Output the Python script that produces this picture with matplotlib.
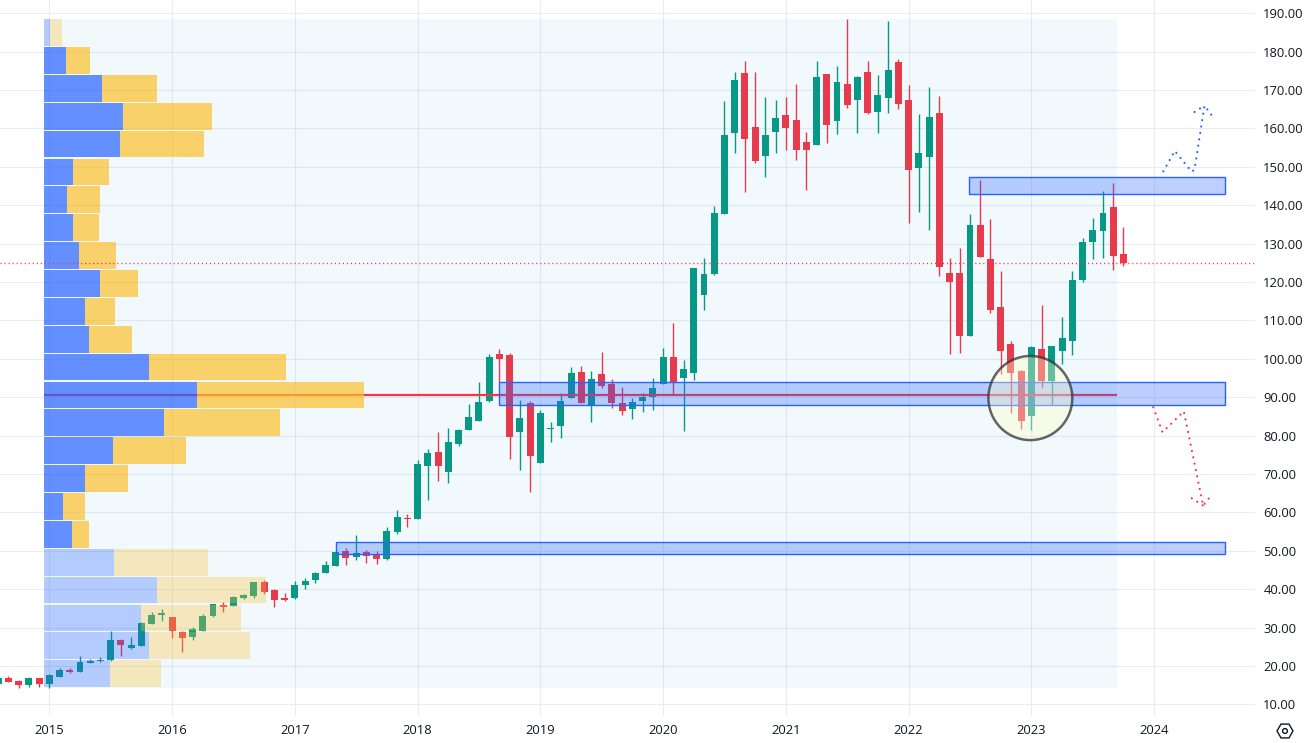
import matplotlib
matplotlib.use("Agg")
import matplotlib.pyplot as plt
from matplotlib.patches import Rectangle, Ellipse, RegularPolygon, Circle
from matplotlib.transforms import IdentityTransform

# monthly candles; index 0 = Jan 2015
first_month = -5
opens = [15.3,16.9,16.1,15.05,16.9,15.3,17.2,19,18.5,20.8,21.2,21.6,26.8,24.7,25.2,31,33.3,32.8,28.9,27.6,29.1,33.1,35.9,35.7,37.7,38.3,41.9,39.8,37.7,37.7,41.1,42.4,44.2,46.1,50,48.4,49.7,48.9,47.9,
         54.9,58.6,58.3,72.1,75.7,70.5,77.8,81.5,83.8,89,101.3,101,80.96,88.5,72.9,81.8,82.5,89.8,96.6,88,96,93.5,88.5,87,89,90.1,93.5,100.5,95,96.3,116.6,122.1,
         137.7,158.8,174.5,160.4,152.9,159.1,163.5,162.2,156.5,155.7,174.2,162,171.6,167.4,174.7,164.3,168,177.3,167.4,149.7,152.6,164,122.4,122.4,106,134.9,126,113.5,103.9,96.9,85.1,102.6,94.2,102,104.7,120.5,130.4,133.3,139.6,127.3]
closes = [16.8,15.9,15.05,16.9,15.3,17.7,19,18.5,21.1,21.3,21.6,26.8,25.5,25.5,31.2,33.3,33.8,29.1,27.3,29.7,33.1,36.2,35.4,38,38.5,41.9,39.3,37.2,37.2,41.1,42.2,44.2,46.3,49.7,48.2,49.4,48.7,47.9,55.2,
          58.8,58.4,72.6,75.5,72.1,78.3,81.5,84.9,88.8,100.5,100,79.7,84.6,74.7,85.9,81.9,89,96.3,88.5,94.8,92.9,88.5,86.4,88.8,90.1,92.4,100.5,94,97.4,123.7,122.1,138,
          158.3,172.6,157.3,151.5,158.3,162.7,160.1,154.4,154.4,173.4,160.9,172.1,166.1,173.4,164,168.7,175.2,166.4,149.2,153.6,163,124,120,106,134.9,126.5,112.7,102,96.3,83.8,103.1,94.2,103.4,105.4,120.5,130.4,133.6,138,126.8,125]
highs = [17,17.4,16.4,17.2,16.9,18,19.5,19.5,22.6,21.9,22.4,29.1,27.1,27.6,31.5,34.1,34.9,32.8,29.1,30.2,33.6,36.2,36.7,38.3,38.8,41.9,42.4,40.1,39,42.2,42.9,44.5,47.4,49.7,50.8,54.1,50.2,50,56.2,
         60.6,59.6,73.7,76.5,81,82,81.7,88.3,94,101.3,102.6,101.5,89.3,89,86.7,83.6,91.1,97.9,98.1,96.8,101.8,94.8,92.7,89.8,91.1,95,102.8,109.4,99.7,123.7,126.3,139.8,
         167.2,174.7,177.6,174.7,168.2,167.4,168.2,171.6,159.1,177.6,174.2,176.3,188.5,173.7,177.6,174,188,178.1,171.3,163.8,170.8,168.5,126.3,128.9,137.7,146.6,136.4,122.9,104.7,97.1,103.4,114,103.4,110.9,122.9,131.5,136.7,143.7,145.8,134.4]
lows = [15,15.9,14.3,14.5,14.5,14.3,17.2,18.2,18.5,20.8,21.1,21.3,22.6,24.4,25.2,31,31.7,27.3,23.7,26.8,29.1,32.8,34.1,35.7,37.5,37.7,38.8,35.4,36.9,37.5,40.1,41.6,44.2,46.1,46.3,47.6,46.9,46.6,47.6,
        54.4,56.2,58.3,63.2,68.2,67.7,77.3,81.5,83.8,88.8,94,73.9,71,65.3,72.9,78.4,79.4,89.8,88.5,83.6,92.4,87.2,85.4,84.4,86.2,86.7,93.5,90.8,81.3,94.5,112.7,121.9,
        137.7,153.6,143.5,151,147.4,153.6,154.4,151.8,144,155.7,156.2,158.6,165.3,158.8,163.8,158.8,164,165.1,135.4,138.3,133.6,121.6,101.3,101.5,106,126.5,112,96,85.9,81.7,81.5,92.4,88,98.6,101,120,126,126.3,123.2,124.2]

# volume profile rows, top to bottom
up_volume = [5.7,22,58,79,76,29,23,29,35,56,41,45,105,153,120,69,41,19,28,70,113,97,105,66]
total_volume = [18,46,113,168,160,65,56,55,72,94,71,88,242,320,236,142,84,41,45,164,222,197,206,117]
value_area_rows = range(1, 19)
vp_top, vp_bottom = 188.6, 14.4
vp_start, vp_end = -0.52, 104.37
poc_price = 90.6
last_price = 125

# drawn zones: (first month, last month, low, high)
zones = [(28.05, 114.93, 49.1, 52.2), (43.96, 114.93, 87.9, 93.9), (89.93, 114.93, 142.9, 147.3)]

# drawn forecast paths
blue_path_m = [108.9, 110.02, 111.5, 111.72, 111.95, 112.92, 113.7]
blue_path_p = [148.85, 154.15, 149.3, 148.76, 149.4, 165.95, 163.17]
blue_head_m = [111.95, 112.92]
blue_head_p = [164.3, 165.95]
red_path_m = [107.91, 108.82, 110.9, 112.79, 113.51]
red_path_p = [87.4, 80.9, 86.35, 61.79, 64.22]
red_head_m = [111.68, 112.79]
red_head_p = [63.7, 61.79]

years = [2015, 2016, 2017, 2018, 2019, 2020, 2021, 2022, 2023, 2024]
price_ticks = list(range(10, 200, 10))

UP, DOWN = "#089981", "#F23645"
BLUE, YELLOW = "#2962FF", "#FBC02D"
TXT = "#131722"

W, H = 1311, 743
fig = plt.figure(figsize=(W / 100, H / 100), dpi=100)
fig.patch.set_facecolor("white")
ax = fig.add_axes([0, (H - 716) / H, 1255 / W, 716 / H])
ax.set_xlim(-4.82, 117.86)
ax.set_ylim(7.0, 193.46)
for s in ax.spines.values():
    s.set_visible(False)
ax.set_facecolor("white")

ax.set_xticks([(y - 2015) * 12 for y in years])
ax.set_xticklabels(years)
ax.set_yticks(price_ticks)
ax.set_yticklabels([f"{v:.2f}" for v in price_ticks])
ax.yaxis.tick_right()
ax.tick_params(axis="both", length=0, labelcolor=TXT, labelsize=9.4)
ax.tick_params(axis="y", pad=6)
ax.tick_params(axis="x", pad=6)
for lab in ax.get_xticklabels() + ax.get_yticklabels():
    lab.set_fontfamily("Open Sans")
ax.grid(True, color="#EAECF1", lw=0.8, zorder=0)
ax.set_axisbelow(True)

months = [first_month + i for i in range(len(opens))]
colors = [UP if c >= o else DOWN for o, c in zip(opens, closes)]
ax.vlines(months, lows, highs, colors=colors, lw=1.0, zorder=2)
ax.bar(months, [abs(c - o) for o, c in zip(opens, closes)],
       bottom=[min(o, c) for o, c in zip(opens, closes)],
       width=0.68, color=colors, lw=0, zorder=3)

# fixed-range volume profile
ax.add_patch(Rectangle((vp_start, vp_bottom), vp_end - vp_start, vp_top - vp_bottom,
                       fc="#169BDE", alpha=0.06, lw=0, zorder=4))
ax.plot([vp_start, vp_end], [poc_price, poc_price], color="#F23645", lw=1.6,
        solid_capstyle="butt", zorder=4.5)
step = (vp_top - vp_bottom) / len(up_volume)
px_to_month = 1 / 10.23
for i, (u, t) in enumerate(zip(up_volume, total_volume)):
    y = vp_top - step * (i + 0.5)
    a = 0.7 if i in value_area_rows else 0.3
    ax.barh(y, u * px_to_month, left=vp_start, height=step - 0.3, color=BLUE, alpha=a, lw=0, zorder=5)
    ax.barh(y, (t - u) * px_to_month, left=vp_start + u * px_to_month, height=step - 0.3,
            color=YELLOW, alpha=a, lw=0, zorder=5)

# zones and drawings
for m0, m1, lo, hi in zones:
    ax.add_patch(Rectangle((m0, lo), m1 - m0, hi - lo, fc=(0.161, 0.384, 1, 0.3),
                           ec=BLUE, lw=1.0, zorder=6))
ax.axhline(last_price, color=DOWN, lw=1.0, ls=(0, (0.8, 2.1)), zorder=6)

for xs, ys, col in [(blue_path_m, blue_path_p, BLUE), (blue_head_m, blue_head_p, BLUE),
                    (red_path_m, red_path_p, DOWN), (red_head_m, red_head_p, DOWN)]:
    ax.plot(xs, ys, color=col, lw=1.6, ls=(0, (0.01, 2.9)), dash_capstyle="round", zorder=7)

ax.add_patch(Ellipse((95.9, 89.8), 8.2, 21.9, fc=(1, 0.988, 0.784, 0.38),
                     ec=(0.2, 0.2, 0.2, 0.75), lw=1.8, zorder=8))

# settings icon
fig.add_artist(RegularPolygon((1285, 743 - 731), 6, radius=8, orientation=3.14159 / 2, fc="none",
                              ec=TXT, lw=1.0, transform=IdentityTransform()))
fig.add_artist(Circle((1285, 743 - 731), 2.4, fc="none", ec=TXT, lw=1.0, transform=IdentityTransform()))

fig.savefig("out.png", dpi=100)
